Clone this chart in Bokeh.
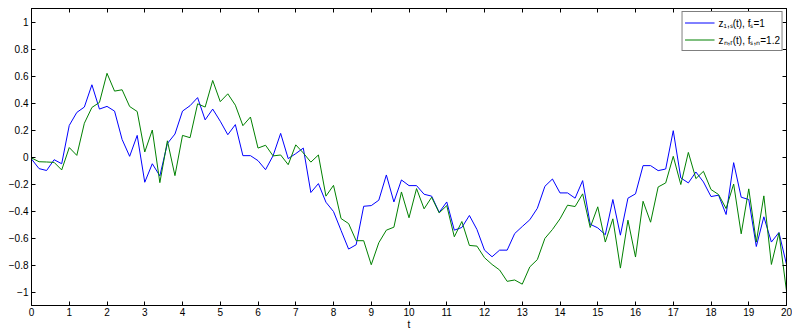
from bokeh.plotting import figure
from bokeh.models import (Range1d, FixedTicker, LinearAxis, Legend, LegendItem,
                          CustomLabelingPolicy)
from bokeh.embed import file_html
from bokeh.resources import INLINE

# ---- data ----
t_start = 0.0
t_step = 0.2
n_samples = 101
t = [round(t_start + i * t_step, 1) for i in range(n_samples)]

z1 = [
    -0.015, -0.086, -0.100, -0.020, -0.050,
    0.234, 0.330, 0.370, 0.535, 0.355,
    0.375, 0.340, 0.130, 0.005, 0.160,
    -0.187, -0.050, -0.140, 0.100, 0.170,
    0.340, 0.380, 0.440, 0.275, 0.355,
    0.265, 0.165, 0.240, 0.010, 0.010,
    -0.027, -0.094, 0.010, 0.175, -0.012,
    0.025, 0.066, -0.263, -0.197, -0.335,
    -0.404, -0.544, -0.682, -0.650, -0.365,
    -0.360, -0.320, -0.133, -0.333, -0.170,
    -0.212, -0.212, -0.276, -0.290, -0.410,
    -0.333, -0.542, -0.522, -0.433, -0.537,
    -0.690, -0.739, -0.690, -0.690, -0.567,
    -0.515, -0.465, -0.380, -0.217, -0.163,
    -0.266, -0.266, -0.305, -0.175, -0.498,
    -0.525, -0.576, -0.315, -0.579, -0.305,
    -0.273, -0.064, -0.064, -0.101, -0.089,
    0.195, -0.155, -0.192, -0.111, -0.185,
    -0.293, -0.283, -0.426, -0.042, -0.298,
    -0.315, -0.663, -0.443, -0.630, -0.559,
    -0.796,
]

zn = [
    -0.007, -0.035, -0.037, -0.040, -0.096,
    0.070, 0.012, 0.250, 0.367, 0.404,
    0.620, 0.488, 0.498, 0.374, 0.337,
    0.037, 0.200, -0.190, 0.120, -0.138,
    0.160, 0.143, 0.394, 0.370, 0.567,
    0.410, 0.468, 0.384, 0.232, 0.296,
    0.066, 0.087, 0.008, 0.015, -0.057,
    0.090, 0.030, -0.038, 0.015, -0.290,
    -0.210, -0.456, -0.493, -0.620, -0.620,
    -0.798, -0.635, -0.542, -0.520, -0.259,
    -0.450, -0.234, -0.384, -0.298, -0.414,
    -0.360, -0.591, -0.478, -0.655, -0.660,
    -0.746, -0.796, -0.837, -0.921, -0.911,
    -0.942, -0.814, -0.760, -0.603, -0.537,
    -0.458, -0.357, -0.367, -0.273, -0.522,
    -0.369, -0.630, -0.458, -0.823, -0.468,
    -0.741, -0.328, -0.483, -0.222, -0.192,
    0.005, -0.204, 0.034, -0.160, -0.106,
    -0.241, -0.278, -0.382, -0.200, -0.569,
    -0.236, -0.630, -0.288, -0.796, -0.562,
    -0.993,
]

x_ticks = list(range(0, 21))
y_ticks = [-1.0, -0.8, -0.6, -0.4, -0.2, 0.0, 0.2, 0.4, 0.6, 0.8, 1.0]
y_tick_labels = ["\u22121", "\u22120.8", "\u22120.6", "\u22120.4", "\u22120.2",
                 "0", "0.2", "0.4", "0.6", "0.8", "1"]
label_1 = "z\u2081,\u209b(t), f\u209b=1"
label_2 = "z\u2099,\u1d63(t), f\u209b,\u2099=1.2"
x_label = "t"

FONT = "Liberation Sans"

p = figure(frame_width=755, frame_height=297, output_backend="svg",
           toolbar_location=None,
           x_range=Range1d(0, 20), y_range=Range1d(-1.1, 1.1),
           min_border_left=31, min_border_right=6, min_border_top=8,
           min_border_bottom=0, x_axis_type=None, y_axis_type=None)
p.background_fill_color = "white"
p.border_fill_color = "white"
p.outline_line_color = "black"
p.outline_line_width = 1

hide_all = CustomLabelingPolicy(code="""
for (const i of indices) { indices.unset(i) }
return indices
""")


def style_axis(ax, labels=True):
    ax.major_tick_in = 4
    ax.major_tick_out = 0
    ax.minor_tick_in = 0
    ax.minor_tick_out = 0
    ax.axis_line_color = "black"
    ax.major_tick_line_color = "black"
    ax.major_label_text_color = "black"
    ax.major_label_text_font = FONT
    if labels:
        ax.major_label_text_font_size = "10px"
        ax.major_label_standoff = 3
    else:
        ax.major_label_text_font_size = "0px"
        ax.major_label_standoff = 0
        ax.major_label_policy = hide_all


xb = LinearAxis(ticker=FixedTicker(ticks=x_ticks), axis_label=x_label)
style_axis(xb)
xb.major_label_standoff = 2
xb.axis_label_text_font = FONT
xb.axis_label_text_font_size = "10px"
xb.axis_label_text_font_style = "normal"
xb.axis_label_text_color = "black"
xb.axis_label_standoff = 0
p.add_layout(xb, "below")

yl = LinearAxis(ticker=FixedTicker(ticks=y_ticks))
style_axis(yl)
yl.major_label_overrides = {v: s for v, s in zip(y_ticks, y_tick_labels)}
p.add_layout(yl, "left")

yr = LinearAxis(ticker=FixedTicker(ticks=y_ticks))
style_axis(yr, labels=False)
p.add_layout(yr, "right")

xa = LinearAxis(ticker=FixedTicker(ticks=x_ticks))
style_axis(xa, labels=False)
p.add_layout(xa, "above")

p.xgrid.ticker = FixedTicker(ticks=x_ticks)
p.xgrid.grid_line_color = "#888888"
p.xgrid.grid_line_dash = "1 3"
p.xgrid.grid_line_width = 1
p.ygrid.visible = False

r1 = p.line(t, z1, line_color="#0000ff", line_width=1)
r2 = p.line(t, zn, line_color="#008000", line_width=1)

legend = Legend(items=[LegendItem(label=label_1, renderers=[r1]),
                       LegendItem(label=label_2, renderers=[r2])],
                location="top_right")
legend.label_text_font = FONT
legend.label_text_font_size = "10px"
legend.label_text_color = "black"
legend.border_line_color = "black"
legend.border_line_width = 1
legend.background_fill_color = "white"
legend.background_fill_alpha = 1
legend.margin = 3
legend.padding = 2
legend.spacing = 0
legend.glyph_width = 30
legend.glyph_height = 17
legend.label_height = 17
legend.label_standoff = 4
p.add_layout(legend, "center")

open("out.html", "w").write(file_html(p, INLINE))
